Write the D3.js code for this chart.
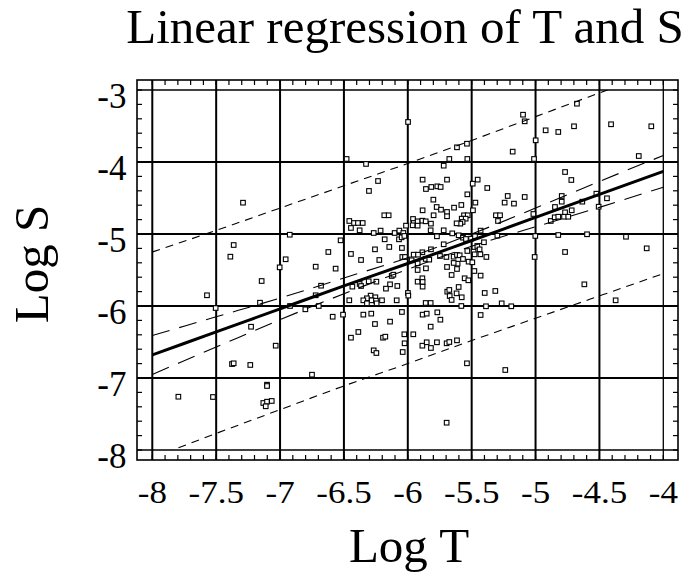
<!DOCTYPE html>
<html><head><meta charset="utf-8">
<script src="https://cdn.jsdelivr.net/npm/d3@7"></script>
<style>html,body{margin:0;padding:0;background:#fff;}svg{display:block;}</style>
</head><body><div id="chart"></div>
<script>
const titleText = "Linear regression of T and S";
const xLabel = "Log T", yLabel = "Log S";
const xTicks = [-8,-7.5,-7,-6.5,-6,-5.5,-5,-4.5,-4];
const yTicks = [-3,-4,-5,-6,-7,-8];
const xTickLabels = ["-8","-7.5","-7","-6.5","-6","-5.5","-5","-4.5","-4"];
const yTickLabels = ["-3","-4","-5","-6","-7","-8"];

// observed points (log T)
const logT = [
-6.479,-5.675,-5.534,-5.179,-5.012,-6.327,-5.719,-6.233,-5.884,-5.693,-5.453,-5.492,-6.304,-5.858,-5.816,-5.769,-5.743,-5.378,-5.534,-5.218,
-5.085,-5.242,-5.169,-5.800,-5.884,-5.774,-5.740,-5.693,-5.638,-5.581,-5.471,-5.693,-5.798,-5.490,-6.184,-6.150,-5.560,-5.531,-5.578,-5.547,
-5.571,-5.589,-5.310,-5.278,-5.294,-5.017,-6.458,-6.421,-6.390,-6.353,-6.445,-6.377,-5.959,-5.954,-5.923,-5.886,-5.860,-5.819,-5.962,-5.923,
-5.618,-6.014,-5.821,-5.719,-5.652,-5.602,-6.267,-6.213,-6.103,-6.066,-6.035,-5.430,-6.526,-6.181,-6.069,-6.048,-6.027,-5.772,-5.568,-5.545,
-5.505,-5.474,-5.404,-5.299,-5.002,-6.145,-6.257,-6.046,-5.719,-5.819,-5.886,-5.748,-5.456,-5.438,-5.534,-5.485,-5.477,-5.432,-5.385,-6.445,
-6.366,-6.223,-6.043,-6.022,-5.954,-5.920,-5.860,-5.832,-5.923,-5.970,-5.698,-5.641,-5.615,-5.594,-5.568,-5.610,-5.641,-5.693,-5.524,-5.495,
-5.007,-6.565,-5.923,-5.858,-5.615,-5.479,-5.657,-5.430,-5.555,-5.526,-6.306,-6.246,-6.126,-6.113,-6.139,-6.377,-6.434,-6.366,-5.923,-5.886,
-5.884,-5.884,-6.171,-6.082,-5.691,-5.675,-5.602,-5.618,-5.672,-5.578,-5.657,-5.398,-5.315,-5.999,-5.996,-6.291,-6.254,-6.320,-6.348,-6.283,
-6.249,-6.202,-6.458,-6.087,-6.320,-6.244,-5.860,-5.821,-5.581,-5.388,-5.265,-5.190,-6.507,-6.348,-6.286,-6.046,-5.884,-5.852,-5.769,-5.745,
-5.430,-6.257,-6.139,-5.821,-6.387,-6.445,-6.194,-6.176,-6.027,-5.957,-6.025,-5.886,-5.852,-5.819,-5.772,-5.696,-5.675,-5.615,-6.267,-6.246,
-6.040,-5.537,-5.237,
-7.290,-7.363,-7.389,-6.924,-6.956,-6.622,-5.998,-5.098,-5.085,-4.676,-4.921,-4.822,-4.699,-4.409,-4.094,-4.999,-4.192,-5.615,-5.537,-4.769,
-4.720,-4.795,-4.795,-4.848,-4.634,-4.524,-4.441,-4.506,-4.769,-4.717,-4.881,-4.850,-4.822,-4.777,-4.744,-4.822,-4.597,-4.292,-4.130,-4.769,
-7.003,-6.721,-7.144,-6.679,-7.572,-6.721,-7.157,-7.504,-6.802,-6.697,-6.922,-6.588,-7.227,-7.034,-7.376,-7.363,-7.233,-6.750,-7.102,-7.102,
-7.131,-7.102,-7.065,-7.112,-7.796,-7.525,-4.618,-4.373,-5.696
];
// observed points (log S)
const logS = [
-3.958,-3.958,-3.958,-3.856,-3.958,-4.027,-4.051,-4.264,-4.245,-4.245,-4.245,-4.301,-4.402,-4.375,-4.347,-4.338,-4.347,-4.361,-4.449,-4.472,
-4.486,-4.564,-4.578,-4.523,-4.671,-4.625,-4.662,-4.694,-4.634,-4.597,-4.564,-4.754,-4.740,-4.671,-4.740,-4.740,-4.740,-4.740,-4.787,-4.787,
-4.833,-4.856,-4.740,-4.740,-4.819,-4.722,-4.819,-4.847,-4.847,-4.847,-4.916,-4.949,-4.791,-4.847,-4.824,-4.815,-4.824,-4.856,-4.879,-4.884,
-4.852,-4.884,-4.949,-4.949,-4.991,-5.018,-4.986,-4.953,-4.986,-4.953,-4.986,-4.953,-5.088,-5.074,-5.074,-5.046,-5.027,-5.032,-5.051,-5.069,
-5.065,-5.032,-5.115,-5.023,-5.027,-5.180,-5.213,-5.194,-5.143,-5.213,-5.254,-5.305,-5.166,-5.213,-5.236,-5.245,-5.282,-5.282,-5.319,-5.277,
-5.361,-5.361,-5.319,-5.319,-5.287,-5.287,-5.347,-5.356,-5.407,-5.365,-5.319,-5.315,-5.291,-5.296,-5.347,-5.412,-5.402,-5.458,-5.384,-5.393,
-5.319,-5.481,-5.500,-5.477,-5.486,-5.514,-5.569,-5.578,-5.615,-5.643,-5.657,-5.662,-5.583,-5.565,-5.699,-5.694,-5.731,-5.722,-5.662,-5.615,
-5.666,-5.731,-5.759,-5.722,-5.801,-5.777,-5.736,-5.824,-5.861,-5.879,-5.916,-5.819,-5.791,-5.819,-5.856,-5.856,-5.879,-5.893,-5.921,-5.921,
-5.926,-5.921,-5.921,-5.921,-5.963,-5.963,-5.958,-5.958,-6.000,-6.004,-5.963,-6.004,-6.120,-6.120,-6.106,-6.083,-6.120,-6.106,-6.088,-6.190,
-6.125,-6.250,-6.217,-6.287,-6.361,-6.440,-6.440,-6.426,-6.393,-6.393,-6.518,-6.551,-6.504,-6.583,-6.504,-6.518,-6.500,-6.477,-6.616,-6.653,
-6.639,-6.796,-6.889,
-4.565,-5.153,-5.315,-5.010,-5.351,-5.250,-3.444,-3.343,-3.435,-3.190,-3.560,-3.583,-3.504,-3.476,-3.504,-3.699,-3.917,-3.796,-3.746,-4.139,
-4.250,-4.472,-4.551,-4.625,-4.551,-4.440,-4.504,-4.621,-4.699,-4.671,-4.819,-4.768,-4.760,-4.760,-4.760,-5.014,-5.004,-5.038,-5.199,-5.250,
-5.463,-5.454,-5.653,-5.718,-5.851,-5.851,-5.954,-6.028,-6.046,-6.000,-6.000,-6.149,-6.288,-6.551,-6.806,-6.796,-6.819,-6.954,-7.093,-7.111,
-7.347,-7.329,-7.319,-7.393,-7.260,-7.264,-5.699,-5.921,-7.621
];

// fitted line and bands, read at these log T values
const bandX     = [-8, -7.5, -7, -6.5, -6, -5.5, -5, -4.5, -4];
const fitY      = [-6.68, -6.36, -6.04, -5.72, -5.41, -5.09, -4.77, -4.45, -4.13];
const confUpper = [-6.41, -6.15, -5.89, -5.61, -5.33, -5.00, -4.64, -4.27, -3.91];
const confLower = [-6.95, -6.57, -6.19, -5.83, -5.49, -5.17, -4.90, -4.63, -4.35];
const predUpper = [-5.25, -4.95, -4.64, -4.33, -4.02, -3.70, -3.37, -3.04, -2.71];
const predLower = [-8.11, -7.77, -7.44, -7.11, -6.80, -6.48, -6.17, -5.86, -5.55];

const W = 696, H = 572;
const serif = "'Liberation Serif','Times New Roman',Times,serif";
const svg = d3.select("#chart").append("svg").attr("width", W).attr("height", H);

const x = d3.scaleLinear().domain([-8, -4]).range([152.3, 663.3]);
const y = d3.scaleLinear().domain([-8, -3]).range([450, 90]);
const fx0 = x(-8) - 15.3, fx1 = x(-4) + 14.7, fy0 = y(-3) - 10, fy1 = y(-8) + 10;

// title
svg.append("text").attr("x", 405).attr("y", 43).attr("text-anchor", "middle")
  .attr("font-family", serif).attr("font-size", 49).text(titleText);

// gridlines
const g = svg.append("g");
g.selectAll("line.vx").data(xTicks).join("line")
  .attr("x1", d => x(d)).attr("x2", d => x(d)).attr("y1", fy0).attr("y2", fy1)
  .attr("stroke", "#000").attr("stroke-width", d => d === -4 ? 1.3 : 2);
g.selectAll("line.hy").data(yTicks).join("line")
  .attr("y1", d => y(d)).attr("y2", d => y(d)).attr("x1", fx0).attr("x2", fx1)
  .attr("stroke", "#000").attr("stroke-width", d => (d === -3 || d === -8) ? 1.3 : 2);

// minor ticks
const xMinor = d3.range(0, 41).map(i => -8 + i * 0.1);
const yMinor = d3.range(0, 26).map(i => -8 + i * 0.2);
const tl = 5;
xMinor.forEach(v => {
  g.append("line").attr("x1", x(v)).attr("x2", x(v)).attr("y1", fy0).attr("y2", fy0 + tl).attr("stroke", "#000").attr("stroke-width", 1.2);
  g.append("line").attr("x1", x(v)).attr("x2", x(v)).attr("y1", fy1).attr("y2", fy1 - tl).attr("stroke", "#000").attr("stroke-width", 1.2);
});
yMinor.forEach(v => {
  g.append("line").attr("y1", y(v)).attr("y2", y(v)).attr("x1", fx0).attr("x2", fx0 + tl).attr("stroke", "#000").attr("stroke-width", 1.2);
  g.append("line").attr("y1", y(v)).attr("y2", y(v)).attr("x1", fx1).attr("x2", fx1 - tl).attr("stroke", "#000").attr("stroke-width", 1.2);
});

// frame
svg.append("rect").attr("x", fx0).attr("y", fy0).attr("width", fx1 - fx0).attr("height", fy1 - fy0)
  .attr("fill", "none").attr("stroke", "#000").attr("stroke-width", 1.6);

// tick labels
svg.selectAll("text.xt").data(xTicks).join("text").attr("class", "xt")
  .attr("transform", d => `translate(${x(d)},503) scale(1,0.88)`)
  .attr("text-anchor", "middle").attr("font-family", serif).attr("font-size", 35)
  .text((d, i) => xTickLabels[i]);
svg.selectAll("text.yt").data(yTicks).join("text").attr("class", "yt")
  .attr("x", 126.5).attr("y", d => y(d) + 17.5)
  .attr("text-anchor", "end").attr("font-family", serif).attr("font-size", 35)
  .text((d, i) => yTickLabels[i]);

// axis titles
svg.append("text").attr("x", 409).attr("y", 562).attr("text-anchor", "middle")
  .attr("font-family", serif).attr("font-size", 49).text(xLabel);
svg.append("text").attr("transform", "translate(48,264) rotate(-90)").attr("text-anchor", "middle")
  .attr("font-family", serif).attr("font-size", 49).text(yLabel);

// clip for lines
svg.append("clipPath").attr("id", "clip").append("rect")
  .attr("x", x(-8)).attr("y", y(-3)).attr("width", x(-4) - x(-8)).attr("height", y(-8) - y(-3));

// points
const pts = logT.map((t, i) => [t, logS[i]]);
const s = 4.6;
svg.append("g").selectAll("rect").data(pts).join("rect")
  .attr("x", d => x(d[0]) - s / 2).attr("y", d => y(d[1]) - s / 2)
  .attr("width", s).attr("height", s)
  .attr("fill", "#fff").attr("stroke", "#000").attr("stroke-width", 1.1);

// lines
const lineGen = arr => d3.line().x((d, i) => x(bandX[i])).y(d => y(d)).curve(d3.curveMonotoneX)(arr);
const lg = svg.append("g").attr("clip-path", "url(#clip)").attr("fill", "none").attr("stroke", "#000");
lg.append("path").attr("d", lineGen(predUpper)).attr("stroke-width", 1.1).attr("stroke-dasharray", "8,6");
lg.append("path").attr("d", lineGen(predLower)).attr("stroke-width", 1.1).attr("stroke-dasharray", "8,6");
lg.append("path").attr("d", lineGen(confUpper)).attr("stroke-width", 1.1).attr("stroke-dasharray", "18,10");
lg.append("path").attr("d", lineGen(confLower)).attr("stroke-width", 1.1).attr("stroke-dasharray", "18,10");
lg.append("path").attr("d", lineGen(fitY)).attr("stroke-width", 3);
</script></body></html>
